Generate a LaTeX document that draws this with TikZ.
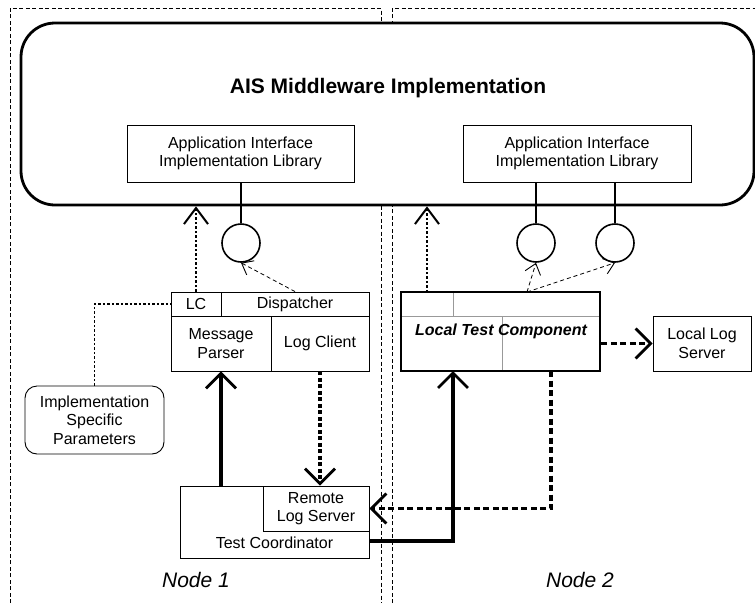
\documentclass[tikz,border=0pt]{standalone}
\usepackage{fontspec}
\setmainfont{Liberation Sans}
\usetikzlibrary{arrows.meta,calc}
\begin{document}
\begin{tikzpicture}[x=1pt,y=-1pt,
  font=\fontsize{16}{18.6}\selectfont,
  box/.style={draw,line width=0.9pt,inner sep=0pt,align=center,fill=white},
  iface/.style={draw,circle,line width=1.6pt,minimum size=38pt,inner sep=0pt},
  region/.style={line width=0.7pt,dash pattern=on 4pt off 2.5pt},
  bigtip/.style={-{Straight Barb[length=15pt,width=30pt,line width=2.8pt]}},
  uptip/.style={-{Straight Barb[length=16pt,width=24pt,line width=2pt]}},
  smalltip/.style={-{Straight Barb[length=10pt,width=16pt,line width=0.9pt]}},
  thinuse/.style={line width=0.8pt,dash pattern=on 4pt off 3pt,smalltip},
  dotup/.style={line width=1.8pt,dash pattern=on 2.5pt off 2pt,uptip},
  thickdot/.style={line width=3.2pt,dash pattern=on 4pt off 2.5pt,bigtip},
  thickdash/.style={line width=3.2pt,dash pattern=on 6pt off 3.5pt,bigtip},
  thicksolid/.style={line width=3.2pt,bigtip},
  divider/.style={draw=black!40,line width=0.8pt},
  nodelabel/.style={font=\fontsize{21}{24}\selectfont\itshape}
]
\useasboundingbox (0,0) rectangle (755,603);

% deployment regions
\draw[region] (10,603) -- (10,8) -- (381,8) -- (381,603);
\draw[region] (392,603) -- (392,8) -- (755,8);

% middleware
\node[draw,fill=white,line width=2.8pt,rounded corners=34pt,minimum width=733pt,minimum height=182pt,inner sep=0pt] (mw) at (387.5,114) {};
\node[font=\fontsize{21}{24}\selectfont\bfseries] (title) at (388,88) {AIS Middleware Implementation};
\node[box,minimum width=227pt,minimum height=57pt] (lib1) at (240.5,153.5) {Application Interface\\Implementation Library};
\node[box,minimum width=228pt,minimum height=57pt] (lib2) at (577,153.5) {Application Interface\\Implementation Library};

% interfaces
\node[iface] (c1) at (241,243) {};
\node[iface] (c2) at (536,243) {};
\node[iface] (c3) at (615,243) {};
\draw[line width=1.6pt] (c1.north |- lib1.south) -- (c1.north);
\draw[line width=1.6pt] (c2.north |- lib2.south) -- (c2.north);
\draw[line width=1.6pt] (c3.north |- lib2.south) -- (c3.north);

% node 1 component
\node[box,minimum width=50pt,minimum height=24pt] (lc) at (196,304) {LC};
\node[box,minimum width=148pt,minimum height=24pt] (disp) at (295,304) {Dispatcher};
\node[box,minimum width=100pt,minimum height=55pt] (mp) at (221,343.5) {Message\\Parser};
\node[box,minimum width=98pt,minimum height=55pt] (lcl) at (320,343.5) {Log Client};

% node 2 component
\node[draw,fill=white,line width=2.6pt,minimum width=199pt,minimum height=79pt,inner sep=0pt] (ltc) at (500.5,331.5) {};
\draw[divider] (402,316) -- (599,316);
\draw[divider] (453,293) -- (453,316);
\draw[divider] (502,316) -- (502,370);
\node[font=\fontsize{16}{18.6}\selectfont\bfseries\itshape] (ltctext) at (501,331) {Local Test Component};
\node[box,minimum width=98pt,minimum height=55pt] (lls) at (702,343.5) {Local Log\\Server};

% parameters
\node[box,rounded corners=12pt,minimum width=139pt,minimum height=68pt] (isp) at (94.5,420) {Implementation\\Specific\\Parameters};

% test coordinator
\node[box,minimum width=189pt,minimum height=72pt] (tc) at (274.5,522) {};
\node[box,minimum width=106pt,minimum height=45pt] (rls) at (316,508.5) {Remote\\Log Server};
\node (tctext) at (274.5,543) {Test Coordinator};

% node labels
\node[nodelabel] (n1) at (196,580) {Node 1};
\node[nodelabel] (n2) at (580,580) {Node 2};

% named connector ends
\coordinate (ltcup) at (427,292);
\coordinate (ltcuse) at (527,292);
\coordinate (ltclog) at (551,371);
\coordinate (ltcin) at (453,371);
\coordinate (tcout) at (369,541);

% connectors
\draw[dotup] (lc.north) -- (lc.north |- mw.south);
\draw[dotup] (ltcup) -- (ltcup |- mw.south);
\draw[thinuse] (disp.north) -- (c1.south);
\draw[thinuse] (ltcuse) -- (c2.south);
\draw[thinuse] (ltcuse) -- (c3.south);
\draw[line width=1.6pt,dash pattern=on 2.5pt off 2pt] (isp.north) |- (lc.west);
\draw[thicksolid] (mp.south |- tc.north) -- (mp.south);
\draw[thickdot] (lcl.south) -- (lcl.south |- rls.north);
\draw[thickdash] (ltclog) |- (rls.east);
\draw[thicksolid] (tcout) -| (ltcin);
\draw[thickdash] (lls.west -| ltc.east) -- (lls.west);
\end{tikzpicture}
\end{document}
